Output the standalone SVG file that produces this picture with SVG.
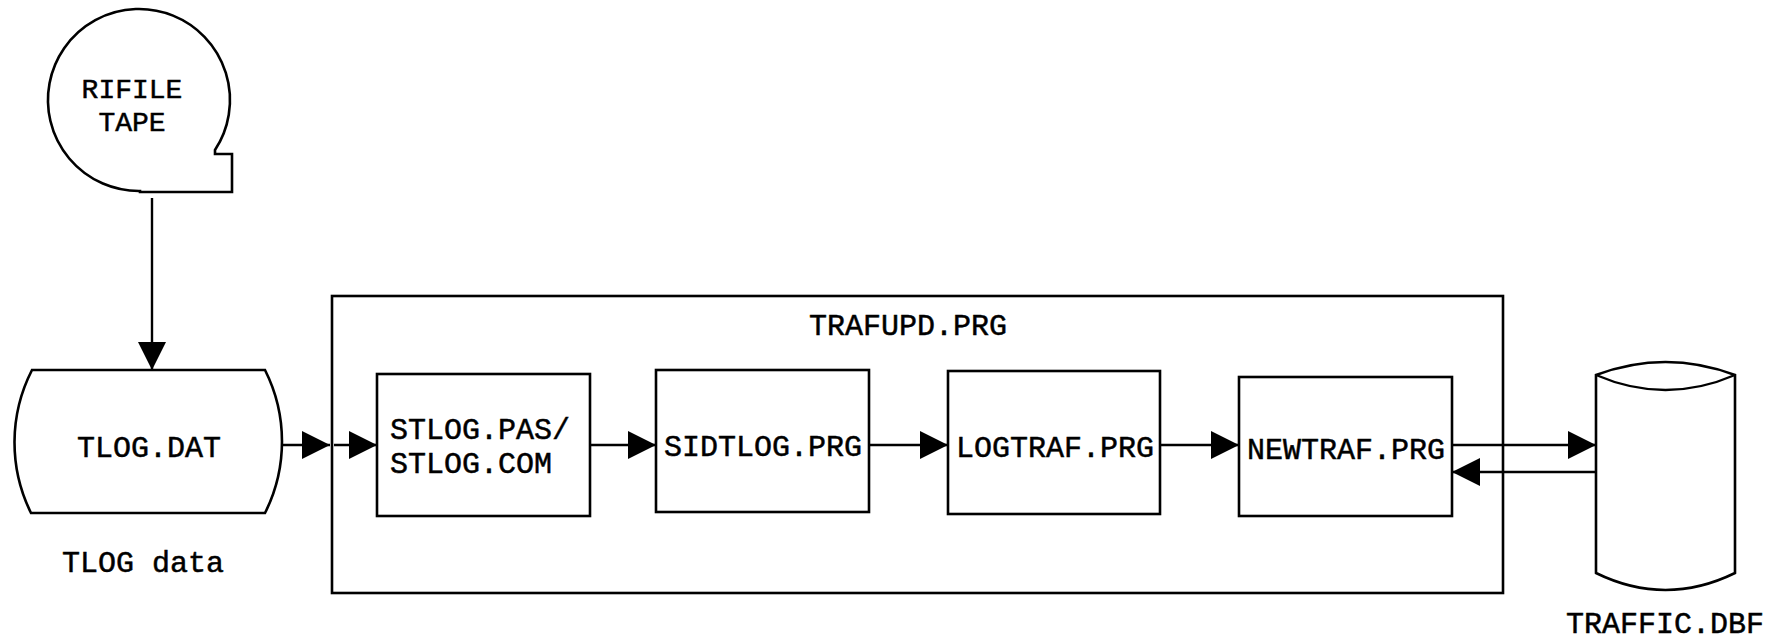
<svg xmlns="http://www.w3.org/2000/svg" width="1786" height="641" viewBox="0 0 1786 641">
<style>
.s{fill:#fff;stroke:#000;stroke-width:2.6;stroke-linejoin:miter}
.c{fill:none;stroke:#000;stroke-width:2.4}
.t{font-family:"Liberation Mono","Courier New",monospace;font-size:30px;fill:#000;stroke:#000;stroke-width:0.5}
.m{text-anchor:middle}
.sm{font-size:28px}
</style>
<defs>
<marker id="ah" markerUnits="userSpaceOnUse" markerWidth="30" markerHeight="30" refX="28" refY="14" orient="auto" viewBox="0 0 30 30">
<path d="M0,0 L28,14 L0,28 Z" fill="#000"/>
</marker>
</defs>
<rect width="1786" height="641" fill="#fff"/>
<g id="trafupd">
<rect class="s" x="332" y="296" width="1171" height="297"/>
<text class="t m" x="908" y="335">TRAFUPD.PRG</text>
</g>
<g id="rifile">
<path class="s" d="M140 191 A91 91 0 1 1 215 150 L215 154 L232 154 L232 192 L140 192 Z"/>
<text class="t m sm" x="132" y="98">RIFILE</text>
<text class="t m sm" x="132" y="131">TAPE</text>
</g>
<g id="tlogdat">
<path class="s" d="M32 370 L265 370 A159 159 0 0 1 265 513 L31 513 A159 159 0 0 1 32 370 Z"/>
<text class="t m" x="149" y="457">TLOG.DAT</text>
<text class="t m" x="143" y="572">TLOG data</text>
</g>
<g id="stlog">
<rect class="s" x="377" y="374" width="213" height="142"/>
<text class="t" x="390" y="439">STLOG.PAS/</text>
<text class="t" x="390" y="473">STLOG.COM</text>
</g>
<g id="sidtlog">
<rect class="s" x="656" y="370" width="213" height="142"/>
<text class="t m" x="763" y="456">SIDTLOG.PRG</text>
</g>
<g id="logtraf">
<rect class="s" x="948" y="371" width="212" height="143"/>
<text class="t m" x="1055" y="457">LOGTRAF.PRG</text>
</g>
<g id="newtraf">
<rect class="s" x="1239" y="377" width="213" height="139"/>
<text class="t m" x="1346" y="459">NEWTRAF.PRG</text>
</g>
<g id="traffic">
<path class="s" d="M1596 375 L1596 573 Q1665.5 607 1735 573 L1735 375 Q1665.5 349 1596 375 Z"/>
<path class="c" d="M1596 375 Q1665.5 405 1735 375"/>
<text class="t m" x="1665" y="633">TRAFFIC.DBF</text>
</g>
<g id="connectors">
<path class="c" d="M152 198 L152 370" marker-end="url(#ah)"/>
<path class="c" d="M283 445 L330 445" marker-end="url(#ah)"/>
<path class="c" d="M334 445 L377 445" marker-end="url(#ah)"/>
<path class="c" d="M590 445 L656 445" marker-end="url(#ah)"/>
<path class="c" d="M869 445 L948 445" marker-end="url(#ah)"/>
<path class="c" d="M1160 445 L1239 445" marker-end="url(#ah)"/>
<path class="c" d="M1452 445 L1596 445" marker-end="url(#ah)"/>
<path class="c" d="M1596 472 L1452 472" marker-end="url(#ah)"/>
</g>
</svg>
